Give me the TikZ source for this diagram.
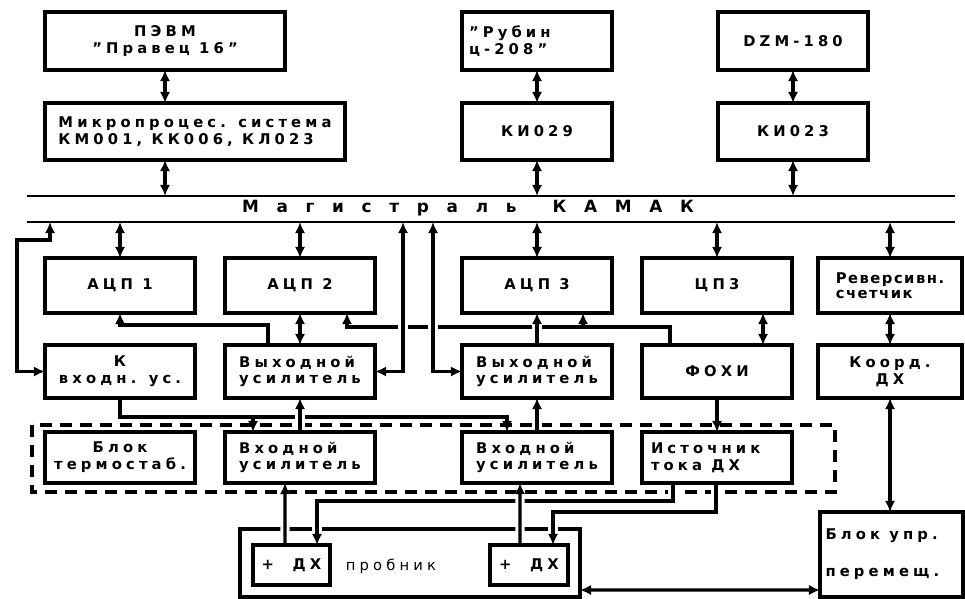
\documentclass[tikz,border=0pt]{standalone}
\usepackage{fontspec}
\setmainfont{DejaVu Sans}[LetterSpace=28]
\usepackage{tikz}
\usetikzlibrary{positioning,arrows.meta,calc}
\pgfdeclarelayer{front}
\pgfsetlayers{main,front}

\begin{document}
\begin{tikzpicture}[x=0.25mm, y=-0.25mm, every path/.style={line width=2.2pt},
  font=\fontsize{10.5}{12}\selectfont\bfseries, >={Latex[length=2.8mm,width=2.6mm]},
  blk/.style={draw, line width=2.4pt, outer sep=0pt, fill=white, minimum width=37.5mm, minimum height=#1, inner sep=2pt, align=center, anchor=north west},
  blk/.default=13.5mm,
  lblk/.style={blk=#1, align=left},
  lblk/.default=13.5mm,
  hop/.style={preaction={draw=white, line width=6.5pt}},
  grp/.style={dash pattern=on 3mm off 2mm, line width=2.2pt}]
  \useasboundingbox (0,0) rectangle (965,598);

  \begin{pgfonlayer}{front}
  % computers and interfaces
  \node[blk=14.5mm, minimum width=60mm] (pevm) at (45,12) {ПЭВМ\\"Правец 16"};
  \node[lblk=14.5mm] (rubin) at (462,12) {\makebox[34mm][l]{"Рубин}\\ц-208"};
  \node[blk=14.5mm] (dzm) at (718,12) {DZM-180};
  \node[lblk=14.25mm, minimum width=75mm] (mps) at (45,103) {Микропроцес. система\\КМ001, КК006, КЛ023};
  \node[blk=14.25mm, below=8.25mm of rubin] (ki29) {КИ029};
  \node[blk=14.25mm, below=8.25mm of dzm] (ki23) {КИ023};

  % modules
  \node[blk=13.75mm] (adc1) at (45,258) {АЦП 1};
  \node[blk=13.75mm, right=7.5mm of adc1] (adc2) {АЦП 2};
  \node[blk=13.75mm, right=21.75mm of adc2] (adc3) {АЦП 3};
  \node[blk=13.75mm, right=7.5mm of adc3] (dac) {ЦП3};
  \node[lblk=13.75mm, minimum width=36mm, right=6.5mm of dac,
    font=\fontsize{10.5}{11}\selectfont\bfseries\addfontfeatures{LetterSpace=10}] (rev) {Реверсивн.\\счетчик};

  \node[blk=13.25mm] (kin) at (45,345) {К\\входн. ус.};
  \node[lblk=13.25mm, right=7.5mm of kin] (out2) {Выходной\\усилитель};
  \node[lblk=13.25mm, right=21.75mm of out2] (out3) {Выходной\\усилитель};
  \node[blk=13.25mm, right=7.5mm of out3] (fohi) {ФОХИ};
  \node[blk=13.25mm, minimum width=36mm, right=6.5mm of fohi] (coord) {Коорд.\\ДХ};

  % thermostated part
  \node[blk=12.75mm] (therm) at (45,432) {Блок\\термостаб.};
  \node[lblk=12.75mm, right=7.5mm of therm] (in2) {Входной\\усилитель};
  \node[lblk=12.75mm, right=21.75mm of in2] (in3) {Входной\\усилитель};
  \node[lblk=12.75mm, right=7.5mm of in3] (src) {\makebox[33mm][l]{Источник}\\тока ДХ};

  % probe
  \node[blk=10mm, minimum width=19.25mm] (dx1) at (253,545) {+\ \ ДХ};
  \node[blk=10mm, minimum width=19.5mm] (dx2) at (490,545) {+\ \ ДХ};
  \node[font=\fontsize{10.5}{12}\selectfont\mdseries] (plbl) at (391,566) {пробник};
  \node[lblk=21.25mm, minimum width=35.75mm] (move) at (820,512) {\makebox[33mm][l]{Блок упр.}\\[5mm]перемещ.};
  \end{pgfonlayer}

  % crate bus
  \coordinate (busT) at (27,196);
  \coordinate (busTe) at (955,196);
  \coordinate (busB) at (27,222);
  \coordinate (busBe) at (955,222);
  \coordinate (tapK) at (50,222);
  \coordinate (tapA) at (403,222);
  \coordinate (tapB) at (433,222);
  \node[font=\fontsize{12}{13}\selectfont\bfseries\addfontfeatures{LetterSpace=105}] (bus) at (468,208) {Магистраль\hspace{9mm}КАМАК};

  \node[blk=17mm, minimum width=85mm, fill=none] (probe) at (240,529) {};
  \draw[grp] ($(therm.north west)+(-13,-7)$) rectangle ($(src.south east)+(43,9)$);

  \draw[<->] (pevm.south) -- (pevm.south |- mps.north);
  \draw[<->] (pevm.south |- mps.south) -- (pevm.south |- busT);
  \draw[<->] (rubin) -- (ki29);
  \draw[<->] (ki29) -- (ki29 |- busT);
  \draw[<->] (dzm) -- (ki23);
  \draw[<->] (ki23) -- (ki23 |- busT);

  \draw[<->] (adc1) -- (adc1 |- busB);
  \draw[<->] (adc2) -- (adc2 |- busB);
  \draw[<->] (adc3) -- (adc3 |- busB);
  \draw[<->] (dac) -- (dac |- busB);
  \draw[<->] (rev) -- (rev |- busB);
  \draw[<->] (tapK) -- ++(0,18) -| ($(kin.west)+(-28,0)$) -- (kin.west);

  % amplifiers to ADCs
  \draw[->] ($(out2.north west)+(43,0)$) -- ++(0,-20) -| (adc1.south);
  \draw[<->] (adc2) -- (out2);
  \draw[->] ($(fohi.north west)+(28,0)$) -- ++(0,-18) -| ($(adc2.south east)+(-28,0)$);
  \draw[->] ($(adc3.south east)+(-29,14)$) -- ($(adc3.south east)+(-29,0)$);
  \draw[<->] ($(dac.south east)+(-29,0)$) -- ($(fohi.north east)+(-29,0)$);
  \draw[<->] (rev) -- (coord);

  \draw[->] (kin.south) -- ++(0,19) -| ($(in3.north west)+(45,0)$);
  \draw[->] ($(in2.north west)+(28,-15)$) -- ($(in2.north west)+(28,0)$);
  \draw[->] (fohi) -- (src);
  \draw[<->] (coord) -- (coord |- move.north);

  % crossing lines
  \draw[<->, hop] (tapA) |- (out2.east);
  \draw[<->, hop] (tapB) |- (out3.west);
  \draw[<-, hop] (adc3) -- (out3);
  \draw[<-, hop] (out2) -- (in2);
  \draw[<-, hop] (out3) -- (in3);

  \draw[->, hop] ($(src.south west)+(31,0)$) -- ++(0,18) -| ($(dx1.north east)+(-13,0)$);
  \draw[->, hop] ($(src.south west)+(74,0)$) -- ++(0,29) -| ($(dx2.north east)+(-15,0)$);
  \draw[->, hop] ($(dx1.north west)+(32,0)$) -- ($(in2.south west)+(60,0)$);
  \draw[->, hop] ($(dx2.north west)+(30,0)$) -- ($(in3.south west)+(58,0)$);
  \draw[<->] ($(probe.south east)+(0,-7)$) -- ($(move.south west)+(0,-7)$);

  \draw[line width=1.6pt] (busT) -- (busTe) (busB) -- (busBe);
\end{tikzpicture}
\end{document}
